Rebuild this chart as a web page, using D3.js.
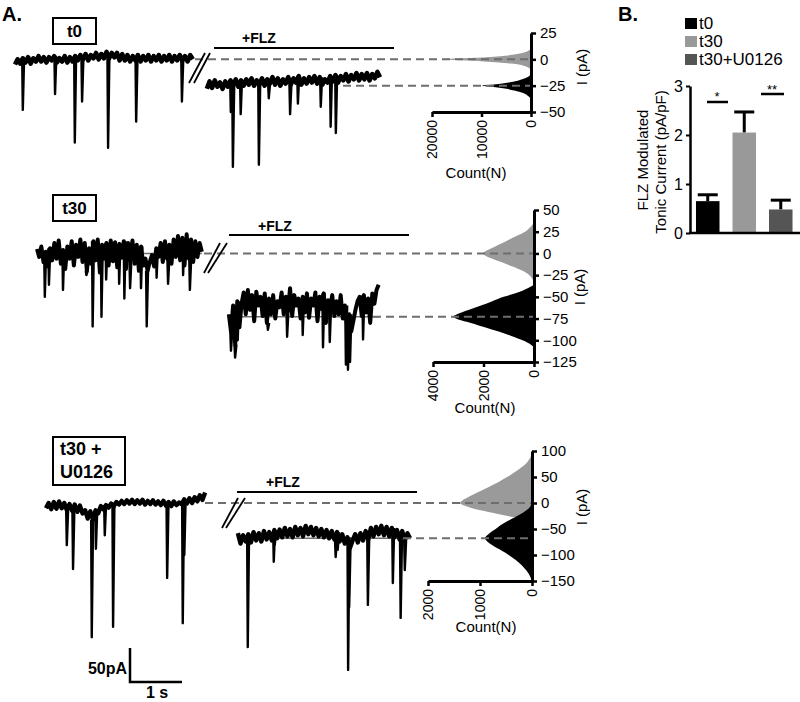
<!DOCTYPE html>
<html><head><meta charset="utf-8">
<script src="https://cdn.jsdelivr.net/npm/d3@7"></script>
<style>body{margin:0;background:#fff} text{font-family:"Liberation Sans",Arial,sans-serif;fill:#000}</style>
</head><body><svg id="c" width="800" height="702"></svg>
<script>
// ---------------- DATA ----------------
// Panel B
const conditions = ["t0", "t30", "t30+U0126"];
const tonicMean = [0.65, 2.05, 0.48];
const tonicSem = [0.13, 0.42, 0.19];
const tonicTicks = [0, 1, 2, 3];

// Trace data: current (pA) sampled evenly over the duration (s); events = [time s, peak pA]
const t0PreDur = 3.42;
const t0PreNoise = [-5,0,-4,1,-3,2,-4,1,-2,3,-2,2,-3,2,-1,3,-3,1,-2,3,-3,2,-2,3,-1,4,0,5,-1,4,1,6,0,5,1,7,1,6,2,6,-1,5,-1,4,-2,3,-1,4,-2,3,-1,4,-2,3,-1,4,-2,3,-1,4,-2,3,-1,4,-1,3,-2,4,0];
const t0PreEvents = [[0.15,-48],[0.77,-33],[1.15,-79],[1.29,-40],[1.79,-84],[2.33,-59],[3.21,-40]];
const t0FlzDur = 3.33;
const t0FlzNoise = [-28,-21,-27,-20,-26,-22,-28,-21,-26,-20,-25,-19,-26,-20,-25,-19,-24,-18,-25,-20,-24,-18,-25,-19,-23,-17,-24,-18,-25,-19,-23,-17,-24,-18,-22,-16,-24,-18,-23,-17,-22,-16,-23,-17,-24,-19,-22,-16,-21,-15,-22,-16,-20,-14,-21,-15,-19,-13,-20,-14,-19,-13,-20,-14,-18,-12,-17];
const t0FlzEvents = [[0.46,-50],[0.50,-102],[0.65,-52],[1.00,-100],[1.19,-37],[1.60,-52],[1.75,-42],[2.19,-45],[2.38,-64],[2.48,-70]];

const t30PreDur = 3.17;
const t30PreNoise = [5,-4,8,-10,2,-15,6,-8,12,-6,15,-12,4,-18,8,-6,14,-14,10,-4,16,-10,12,-20,6,-12,14,-8,16,-22,10,-6,12,-14,15,-9,13,-16,11,-5,14,-18,12,-8,15,-12,10,-20,8,-14,-6,-20,-10,-2,-15,6,-4,12,-10,14,-6,10,-12,16,-4,20,-8,18,-14,22,-6,16,-10,14,-4,12,2];
const t30PreEvents = [[0.15,-50],[0.23,-36],[0.50,-42],[0.95,-25],[1.07,-84],[1.24,-73],[1.33,-30],[1.58,-35],[1.68,-52],[1.79,-40],[2.00,-40],[2.11,-84],[2.30,-28],[2.52,-35],[2.81,-25],[2.94,-42]];
const t30FlzDur = 2.88;
const t30FlzNoise = [-70,-90,-60,-105,-55,-85,-58,-45,-70,-42,-65,-48,-78,-44,-60,-50,-72,-46,-80,-52,-70,-48,-75,-55,-62,-45,-70,-50,-66,-40,-72,-48,-60,-52,-75,-50,-68,-46,-74,-52,-60,-45,-78,-50,-64,-46,-80,-54,-62,-48,-72,-55,-70,-48,-75,-60,-82,-70,-90,-78,-65,-55,-50,-72,-48,-68,-52,-80,-46,-58,-42,-36];
const t30FlzEvents = [[0.04,-112],[0.12,-120],[0.17,-100],[0.75,-88],[1.12,-96],[1.42,-94],[1.81,-108],[1.94,-102],[2.25,-128],[2.29,-134],[2.33,-125],[2.58,-99]];

const u0126PreDur = 3.06;
const u0126PreNoise = [-10,0,-12,2,-11,3,-10,0,-14,-2,-15,-3,-17,-5,-20,-14,-30,-16,-32,-14,-20,-6,-12,-4,-9,-1,-6,2,-3,4,-2,5,-1,6,-2,5,-1,6,-3,4,-2,5,-3,3,-4,4,-5,2,-6,3,-4,1,-2,7,-1,9,0,11,3,15,6,20];
const u0126PreEvents = [[0.40,-81],[0.52,-127],[0.88,-258],[0.96,-88],[1.13,-62],[1.29,-238],[2.33,-144],[2.63,-231],[2.66,-100]];
const u0126FlzDur = 3.31;
const u0126FlzNoise = [-58,-78,-62,-74,-60,-76,-56,-72,-58,-74,-54,-70,-56,-72,-52,-68,-51,-66,-48,-64,-50,-66,-46,-62,-48,-64,-44,-60,-46,-62,-48,-64,-50,-66,-52,-68,-54,-70,-56,-74,-60,-78,-66,-86,-72,-60,-76,-58,-72,-54,-70,-48,-64,-46,-60,-44,-62,-46,-64,-48,-66,-52,-70,-54,-72,-58,-68];
const u0126FlzEvents = [[0.19,-277],[0.69,-113],[0.71,-80],[1.88,-104],[1.92,-90],[2.12,-321],[2.14,-200],[2.50,-196],[2.98,-154],[3.13,-221],[3.21,-129]];

// All-points histograms: current bins (pA) and counts (N)
const t0CtrlBins = [10,8,6,4,2,0,-2,-4,-6,-8,-10];
const t0CtrlCounts = [0,600,1800,4200,9000,17800,9500,4000,1500,500,0];
const t0FlzBins = [-14,-16,-18,-20,-22,-24,-25,-26,-28,-30,-32,-34,-36,-38];
const t0FlzCounts = [0,400,1200,2500,4500,7500,9900,8000,5000,3000,1600,800,300,0];
const t30CtrlBins = [36,30,25,20,15,10,5,2,0,-2,-5,-10,-15,-20,-25,-30,-34];
const t30CtrlCounts = [0,150,350,700,1050,1400,1750,1950,2020,1950,1750,1300,850,450,180,50,0];
const t30FlzBins = [-36,-40,-45,-50,-55,-60,-65,-70,-73,-76,-80,-85,-90,-95,-100,-105,-108];
const t30FlzCounts = [0,250,650,1200,1650,2100,2600,3050,3200,3000,2500,1950,1400,900,450,120,0];
const u0126CtrlBins = [95,80,65,50,40,30,20,10,5,0,-5,-10,-20,-30,-38];
const u0126CtrlCounts = [0,80,250,480,650,850,1050,1250,1340,1385,1300,1150,700,250,0];
const u0126FlzBins = [0,-10,-20,-30,-40,-50,-60,-68,-75,-85,-95,-105,-115,-125,-135,-150];
const u0126FlzCounts = [0,60,200,380,560,700,840,904,850,700,520,380,250,150,70,0];

// Mean holding levels (pA) before / during FLZ
const t0Levels = [0, -25];
const t30Levels = [0, -73];
const u0126Levels = [0, -68];

// Axis tick values
const t0CurrentTicks = [25, 0, -25, -50];
const t30CurrentTicks = [50, 25, 0, -25, -50, -75, -100, -125];
const u0126CurrentTicks = [100, 50, 0, -50, -100, -150];
const t0CountTicks = [20000, 10000, 0];
const t30CountTicks = [4000, 2000, 0];
const u0126CountTicks = [2000, 1000, 0];

// ---------------- LAYOUT ----------------
const svg = d3.select("#c");
const GRAY = "#9a9a9a", DASH = "#6e6e6e";
const PX_PER_S = 52, FLZ_OFFSET = 3.69;

const rows = [
  { label:["t0"], box:[53,18,43,26], yDom:[-50,25], yRng:[112,33], xStart:15, cRng:[531,432], cMax:20000,
    pre:[t0PreDur,t0PreNoise,t0PreEvents], flz:[t0FlzDur,t0FlzNoise,t0FlzEvents], noiseW:4.6,
    ctrl:[t0CtrlBins,t0CtrlCounts], drug:[t0FlzBins,t0FlzCounts], levels:t0Levels,
    yTicks:t0CurrentTicks, cTicks:t0CountTicks, flzText:[242,43], flzLine:[214,394,48],
    brk:[[189,83,205,53],[194,83,210,53]], dashStart:[195,343], thin:[false,false], countLab:[476,178], iLab:[582,67] },
  { label:["t30"], box:[53,195,43,26], yDom:[-125,50], yRng:[362,210], xStart:37, cRng:[534,433], cMax:4000,
    pre:[t30PreDur,t30PreNoise,t30PreEvents], flz:[t30FlzDur,t30FlzNoise,t30FlzEvents], noiseW:4.0,
    ctrl:[t30CtrlBins,t30CtrlCounts], drug:[t30FlzBins,t30FlzCounts], levels:t30Levels,
    yTicks:t30CurrentTicks, cTicks:t30CountTicks, flzText:[258,231], flzLine:[229,409,235],
    brk:[[204,273,220,243],[208,273,227,243]], dashStart:[204,373], thin:[true,true], countLab:[485,413], iLab:[580,287] },
  { label:["t30 +","U0126"], box:[53,437,72,48], yDom:[-150,100], yRng:[581,451], xStart:46, cRng:[532,428], cMax:2000,
    pre:[u0126PreDur,u0126PreNoise,u0126PreEvents], flz:[u0126FlzDur,u0126FlzNoise,u0126FlzEvents], noiseW:4.4,
    ctrl:[u0126CtrlBins,u0126CtrlCounts], drug:[u0126FlzBins,u0126FlzCounts], levels:u0126Levels,
    yTicks:u0126CurrentTicks, cTicks:u0126CountTicks, flzText:[266,487], flzLine:[237,417,492],
    brk:[[222,528,238,498],[226,528,245,498]], dashStart:[205,403], thin:[false,true], countLab:[486,632], iLab:[582,507] }
];

rows.forEach(r => {
  const g = svg.append("g");
  const y = d3.scaleLinear().domain(r.yDom).range(r.yRng);
  const x = d3.scaleLinear().domain([0, 1]).range([r.xStart, r.xStart + PX_PER_S]);
  const c = d3.scaleLinear().domain([0, r.cMax]).range(r.cRng);
  const axisX = c(0);

  // condition box
  const [bx, by, bw, bh] = r.box;
  g.append("rect").attr("x", bx).attr("y", by).attr("width", bw).attr("height", bh)
    .attr("fill", "none").attr("stroke", "#000").attr("stroke-width", 2);
  if (r.label.length === 1) {
    g.append("text").attr("x", bx + bw / 2).attr("y", by + bh / 2 + 6).attr("text-anchor", "middle")
      .attr("font-size", 17).attr("font-weight", "bold").text(r.label[0]);
  } else {
    r.label.forEach((s, i) => g.append("text").attr("x", bx + 7).attr("y", by + 18 + i * 23)
      .attr("font-size", 18).attr("font-weight", "bold").text(s));
  }

  // histograms
  const area = d3.area().curve(d3.curveMonotoneY)
    .y(d => y(d[0])).x0(axisX).x1(d => c(d[1]));
  g.append("path").datum(d3.zip(r.ctrl[0], r.ctrl[1])).attr("d", area).attr("fill", GRAY);
  g.append("path").datum(d3.zip(r.drug[0], r.drug[1])).attr("d", area).attr("fill", "#000");

  // thin reference lines through traces
  const spans = [[0, r.pre[0]], [FLZ_OFFSET, FLZ_OFFSET + r.flz[0]]];
  r.thin.forEach((on, i) => {
    if (!on) return;
    g.append("line").attr("x1", x(spans[i][0])).attr("x2", x(spans[i][1]))
      .attr("y1", y(r.levels[i])).attr("y2", y(r.levels[i]))
      .attr("stroke", DASH).attr("stroke-width", 1.5);
  });

  // traces: noisy baseline (thick) + synaptic events (thin spikes)
  const line = d3.line().x(d => x(d[0])).y(d => y(d[1]));
  [[r.pre, 0], [r.flz, FLZ_OFFSET]].forEach(([tr, off]) => {
    const [dur, noise, events] = tr;
    const dt = dur / (noise.length - 1);
    const base = noise.map((v, i) => [off + i * dt, v]);
    g.append("path").datum(base).attr("d", line)
      .attr("fill", "none").attr("stroke", "#000").attr("stroke-width", r.noiseW).attr("stroke-linejoin", "round");
    events.forEach(([t, a]) => {
      const b = noise[Math.min(noise.length - 1, Math.round(t / dt))];
      g.append("path").datum([[off + t - 0.012, b], [off + t, a], [off + t + 0.025, b]]).attr("d", line)
        .attr("fill", "none").attr("stroke", "#000").attr("stroke-width", 2.4).attr("stroke-linejoin", "round");
    });
  });

  // dashed level lines
  r.levels.forEach((lv, i) => {
    g.append("line").attr("x1", r.dashStart[i]).attr("x2", axisX).attr("y1", y(lv)).attr("y2", y(lv))
      .attr("stroke", DASH).attr("stroke-width", 2).attr("stroke-dasharray", "8,5");
  });

  // break marks
  r.brk.forEach(b => g.append("line").attr("x1", b[0]).attr("y1", b[1]).attr("x2", b[2]).attr("y2", b[3])
    .attr("stroke", "#000").attr("stroke-width", 1.8));

  // +FLZ
  g.append("text").attr("x", r.flzText[0]).attr("y", r.flzText[1]).attr("font-size", 14)
    .attr("font-weight", "bold").text("+FLZ");
  g.append("line").attr("x1", r.flzLine[0]).attr("x2", r.flzLine[1]).attr("y1", r.flzLine[2]).attr("y2", r.flzLine[2])
    .attr("stroke", "#000").attr("stroke-width", 2);

  // histogram axes
  const ya = g.append("g").attr("transform", `translate(${axisX},0)`)
    .call(d3.axisRight(y).tickValues(r.yTicks).tickSize(5).tickSizeOuter(0).tickPadding(4));
  ya.select(".domain").attr("stroke-width", 3);
  ya.selectAll(".tick line").attr("stroke-width", 2.5);
  ya.selectAll("text").attr("font-size", 15).attr("font-family", "Liberation Sans, Arial, sans-serif");

  const xa = g.append("g").attr("transform", `translate(0,${r.yRng[0]})`)
    .call(d3.axisBottom(c).tickValues(r.cTicks).tickSize(5).tickSizeOuter(0).tickFormat(d3.format("d")));
  xa.select(".domain").attr("stroke-width", 3);
  xa.selectAll(".tick line").attr("stroke-width", 2.5);
  xa.selectAll("text").attr("font-size", 14).attr("font-family", "Liberation Sans, Arial, sans-serif")
    .attr("transform", "rotate(-90)").attr("text-anchor", "end").attr("x", -8).attr("y", 0).attr("dy", "0.35em");

  g.append("text").attr("x", r.countLab[0]).attr("y", r.countLab[1]).attr("text-anchor", "middle")
    .attr("font-size", 15).text("Count(N)");
  g.append("text").attr("transform", `translate(${r.iLab[0]},${r.iLab[1]}) rotate(-90)`)
    .attr("text-anchor", "middle").attr("dy", "0.35em").attr("font-size", 15).text("I (pA)");
});

// panel label
svg.append("text").attr("x", 2).attr("y", 21).attr("font-size", 20).attr("font-weight", "bold").text("A.");

// scale bar
svg.append("path").attr("d", `M130,648V682H${130 + PX_PER_S}`).attr("fill", "none")
  .attr("stroke", "#000").attr("stroke-width", 2.5);
svg.append("text").attr("x", 127).attr("y", 674).attr("text-anchor", "end").attr("font-size", 16)
  .attr("font-weight", "bold").text("50pA");
svg.append("text").attr("x", 157).attr("y", 698).attr("text-anchor", "middle").attr("font-size", 16)
  .attr("font-weight", "bold").text("1 s");

// ---------------- PANEL B ----------------
const barColors = ["#000000", "#999999", "#555555"];
const by = d3.scaleLinear().domain([0, 3]).range([233, 86]);
const bx = d3.scaleBand().domain(conditions).range([690, 798.5]).paddingInner(0.356).paddingOuter(0.164);
const gb = svg.append("g");
gb.append("text").attr("x", 618).attr("y", 21).attr("font-size", 20).attr("font-weight", "bold").text("B.");

conditions.forEach((k, i) => {
  gb.append("rect").attr("x", 685).attr("y", 18 + i * 18).attr("width", 12).attr("height", 11).attr("fill", barColors[i]);
  gb.append("text").attr("x", 699).attr("y", 29 + i * 18).attr("font-size", 17).text(k);
});

conditions.forEach((k, i) => {
  const cx = bx(k) + bx.bandwidth() / 2;
  gb.append("line").attr("x1", cx).attr("x2", cx).attr("y1", by(tonicMean[i])).attr("y2", by(tonicMean[i] + tonicSem[i]))
    .attr("stroke", "#000").attr("stroke-width", 3);
  gb.append("line").attr("x1", cx - 10).attr("x2", cx + 10).attr("y1", by(tonicMean[i] + tonicSem[i])).attr("y2", by(tonicMean[i] + tonicSem[i]))
    .attr("stroke", "#000").attr("stroke-width", 3);
  gb.append("rect").attr("x", bx(k)).attr("width", bx.bandwidth()).attr("y", by(tonicMean[i]))
    .attr("height", by(0) - by(tonicMean[i])).attr("fill", barColors[i]);
});

const bya = gb.append("g").attr("transform", "translate(690,0)")
  .call(d3.axisLeft(by).tickValues(tonicTicks).tickSize(4).tickSizeOuter(0).tickFormat(d3.format("d")));
bya.select(".domain").attr("stroke-width", 2.5);
bya.selectAll(".tick line").attr("stroke-width", 2);
bya.selectAll("text").attr("font-size", 16).attr("font-family", "Liberation Sans, Arial, sans-serif");
gb.append("line").attr("x1", 689).attr("x2", 800).attr("y1", by(0)).attr("y2", by(0)).attr("stroke", "#000").attr("stroke-width", 2.5);

// significance
gb.append("line").attr("x1", 707).attr("x2", 728).attr("y1", 102).attr("y2", 102).attr("stroke", "#000").attr("stroke-width", 2.5);
gb.append("text").attr("x", 717).attr("y", 101).attr("text-anchor", "middle").attr("font-size", 13).text("*");
gb.append("line").attr("x1", 761).attr("x2", 784).attr("y1", 94).attr("y2", 94).attr("stroke", "#000").attr("stroke-width", 2.5);
gb.append("text").attr("x", 772).attr("y", 94).attr("text-anchor", "middle").attr("font-size", 13).text("**");

gb.append("text").attr("transform", "translate(648,160) rotate(-90)").attr("text-anchor", "middle")
  .attr("font-size", 15).text("FLZ Modulated");
gb.append("text").attr("transform", "translate(666,162) rotate(-90)").attr("text-anchor", "middle")
  .attr("font-size", 15).text("Tonic Current (pA/pF)");
</script></body></html>
